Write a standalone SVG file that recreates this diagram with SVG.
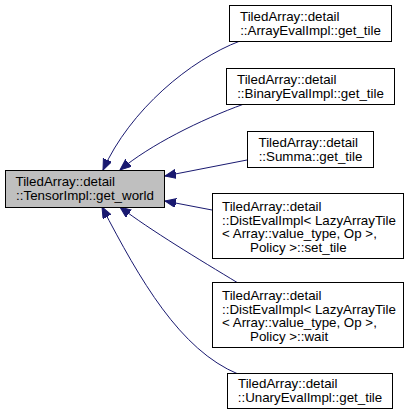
<svg xmlns="http://www.w3.org/2000/svg" width="413" height="416" viewBox="0 0 413 416">
<style>
.box{fill:#ffffff;stroke:#000000;stroke-width:1}
.main{fill:#bfbfbf;stroke:#000000;stroke-width:1}
text{font-family:"Liberation Sans",Arial,Helvetica,sans-serif;font-size:13.33px;fill:#000000}
.mid{text-anchor:middle}
.edge{fill:none;stroke:#191970;stroke-width:1;marker-end:url(#ah)}
</style>
<defs>
<marker id="ah" markerWidth="13" markerHeight="10" refX="11" refY="4.5" orient="auto" markerUnits="userSpaceOnUse">
<path d="M0,0 L11,4.5 L0,9 z" fill="#191970" stroke="#191970"/>
</marker>
</defs>
<rect width="413" height="416" fill="#ffffff"/>
<g id="connectors">
<path class="edge" d="M240,41 C190,60 130,110 103,170"/>
<path class="edge" d="M244,104 C200,120 150,145 120,170"/>
<path class="edge" d="M247,160 L165,176"/>
<path class="edge" d="M212,210 L165,201"/>
<path class="edge" d="M238,283 C200,260 150,230 120,207"/>
<path class="edge" d="M238,374 C180,350 140,280 102,207"/>
</g>
<g id="node-main">
<rect class="main" x="5.5" y="170.5" width="159" height="37"/>
<text x="15.5" y="185.5">TiledArray::detail</text>
<text class="mid" x="85" y="199.5">::TensorImpl::get_world</text>
</g>
<g id="node-array">
<rect class="box" x="229.5" y="5.5" width="162" height="36"/>
<text x="240" y="20.5">TiledArray::detail</text>
<text class="mid" x="310.5" y="34.5">::ArrayEvalImpl::get_tile</text>
</g>
<g id="node-binary">
<rect class="box" x="226.5" y="68.5" width="168" height="36"/>
<text x="237" y="83.5">TiledArray::detail</text>
<text class="mid" x="310.5" y="97.5">::BinaryEvalImpl::get_tile</text>
</g>
<g id="node-summa">
<rect class="box" x="247.5" y="131.5" width="126" height="36"/>
<text x="258.5" y="146.5">TiledArray::detail</text>
<text class="mid" x="310.5" y="160.5">::Summa::get_tile</text>
</g>
<g id="node-settile">
<rect class="box" x="212.5" y="193.5" width="191" height="65"/>
<text x="222" y="211">TiledArray::detail</text>
<text x="222" y="224.5">::DistEvalImpl&lt; LazyArrayTile</text>
<text x="222" y="238">&lt; Array::value_type, Op &gt;,</text>
<text x="250" y="251.5">Policy &gt;::set_tile</text>
</g>
<g id="node-wait">
<rect class="box" x="212.5" y="282.5" width="191" height="65"/>
<text x="222" y="300">TiledArray::detail</text>
<text x="222" y="313.5">::DistEvalImpl&lt; LazyArrayTile</text>
<text x="222" y="327">&lt; Array::value_type, Op &gt;,</text>
<text x="250" y="340.5">Policy &gt;::wait</text>
</g>
<g id="node-unary">
<rect class="box" x="227.5" y="373.5" width="165" height="35"/>
<text x="238" y="388">TiledArray::detail</text>
<text class="mid" x="310" y="402">::UnaryEvalImpl::get_tile</text>
</g>
</svg>
